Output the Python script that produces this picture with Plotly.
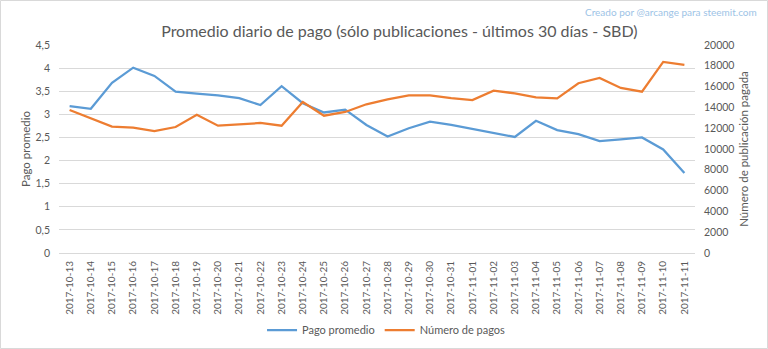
import plotly.graph_objects as go

dates = ["2017-10-13","2017-10-14","2017-10-15","2017-10-16","2017-10-17","2017-10-18",
         "2017-10-19","2017-10-20","2017-10-21","2017-10-22","2017-10-23","2017-10-24",
         "2017-10-25","2017-10-26","2017-10-27","2017-10-28","2017-10-29","2017-10-30",
         "2017-10-31","2017-11-01","2017-11-02","2017-11-03","2017-11-04","2017-11-05",
         "2017-11-06","2017-11-07","2017-11-08","2017-11-09","2017-11-10","2017-11-11"]

pago_promedio = [3.18, 3.12, 3.68, 4.01, 3.83, 3.49, 3.45, 3.41, 3.35, 3.20, 3.61, 3.24,
                 3.04, 3.10, 2.77, 2.52, 2.70, 2.84, 2.77, 2.68, 2.59, 2.51, 2.86, 2.66,
                 2.57, 2.42, 2.46, 2.50, 2.24, 1.73]

numero_pagos = [13750, 12950, 12150, 12050, 11730, 12115, 13300, 12240, 12400, 12500, 12240, 14520,
                13200, 13560, 14300, 14780, 15160, 15160, 14900, 14710, 15610, 15350, 14970, 14870,
                16320, 16830, 15870, 15510, 18370, 18080]

left_ticks = [0, 0.5, 1, 1.5, 2, 2.5, 3, 3.5, 4, 4.5]
left_labels = ["0", "0,5", "1", "1,5", "2", "2,5", "3", "3,5", "4", "4,5"]
right_ticks = [0, 2000, 4000, 6000, 8000, 10000, 12000, 14000, 16000, 18000, 20000]
right_labels = [str(v) for v in right_ticks]

FONT = "Lato"
GREY = "#595959"

fig = go.Figure()
fig.add_trace(go.Scatter(x=dates, y=pago_promedio, name="Pago promedio", mode="lines",
                         line=dict(color="#5b9bd5", width=2.25), yaxis="y"))
fig.add_trace(go.Scatter(x=dates, y=numero_pagos, name="Número de pagos", mode="lines",
                         line=dict(color="#ed7d31", width=2.25), yaxis="y2"))

fig.update_layout(
    width=768, height=349,
    margin=dict(l=59, r=73, t=45, b=96, autoexpand=False),
    paper_bgcolor="white", plot_bgcolor="white",
    font=dict(family=FONT, color=GREY, size=11),
    title=dict(text="Promedio diario de pago (sólo publicaciones - últimos 30 días - SBD)",
               x=0.52, xanchor="center", y=0.91, yanchor="middle",
               font=dict(size=16, color=GREY, family=FONT)),
    xaxis=dict(type="category", range=[-0.5, 29.5], tickangle=-90,
               tickfont=dict(size=10, color=GREY), showgrid=False,
               showline=True, linecolor="#d9d9d9", linewidth=1, ticks="", ticklen=0,
               ticklabelstandoff=3),
    yaxis=dict(range=[0, 4.5], tickvals=left_ticks, ticktext=left_labels,
               showgrid=True, gridcolor="#d9d9d9", gridwidth=1, zeroline=False,
               tickfont=dict(size=10.5, color=GREY), ticks="", ticklabelstandoff=8,
               title=dict(text="Pago promedio", font=dict(size=11.5, color=GREY), standoff=2)),
    yaxis2=dict(range=[0, 20000], tickvals=right_ticks, ticktext=right_labels,
                overlaying="y", side="right", showgrid=False, zeroline=False,
                tickfont=dict(size=10.5, color=GREY), ticks="", ticklabelstandoff=8,
                title=dict(text="Número de publicación pagada", font=dict(size=11.5, color=GREY), standoff=6)),
    legend=dict(orientation="h", x=0.515, xanchor="center", yref="container", y=0.054,
                yanchor="middle", font=dict(size=11, color=GREY), bgcolor="rgba(0,0,0,0)"),
    showlegend=True,
)

fig.add_annotation(text="Creado por @arcange para steemit.com", xref="paper", yref="paper",
                   x=1.1, xanchor="right", y=1.16, yanchor="middle", showarrow=False,
                   font=dict(size=10, color="#9dc3e6", family=FONT))

fig.add_shape(type="rect", xref="paper", yref="paper",
              x0=(0.5 - 59) / 636, x1=(767.5 - 59) / 636,
              y0=(253 - 348.5) / 208, y1=(253 - 0.5) / 208,
              line=dict(color="#d9d9d9", width=1), fillcolor="rgba(0,0,0,0)", layer="below")

fig.write_html("out.html")
